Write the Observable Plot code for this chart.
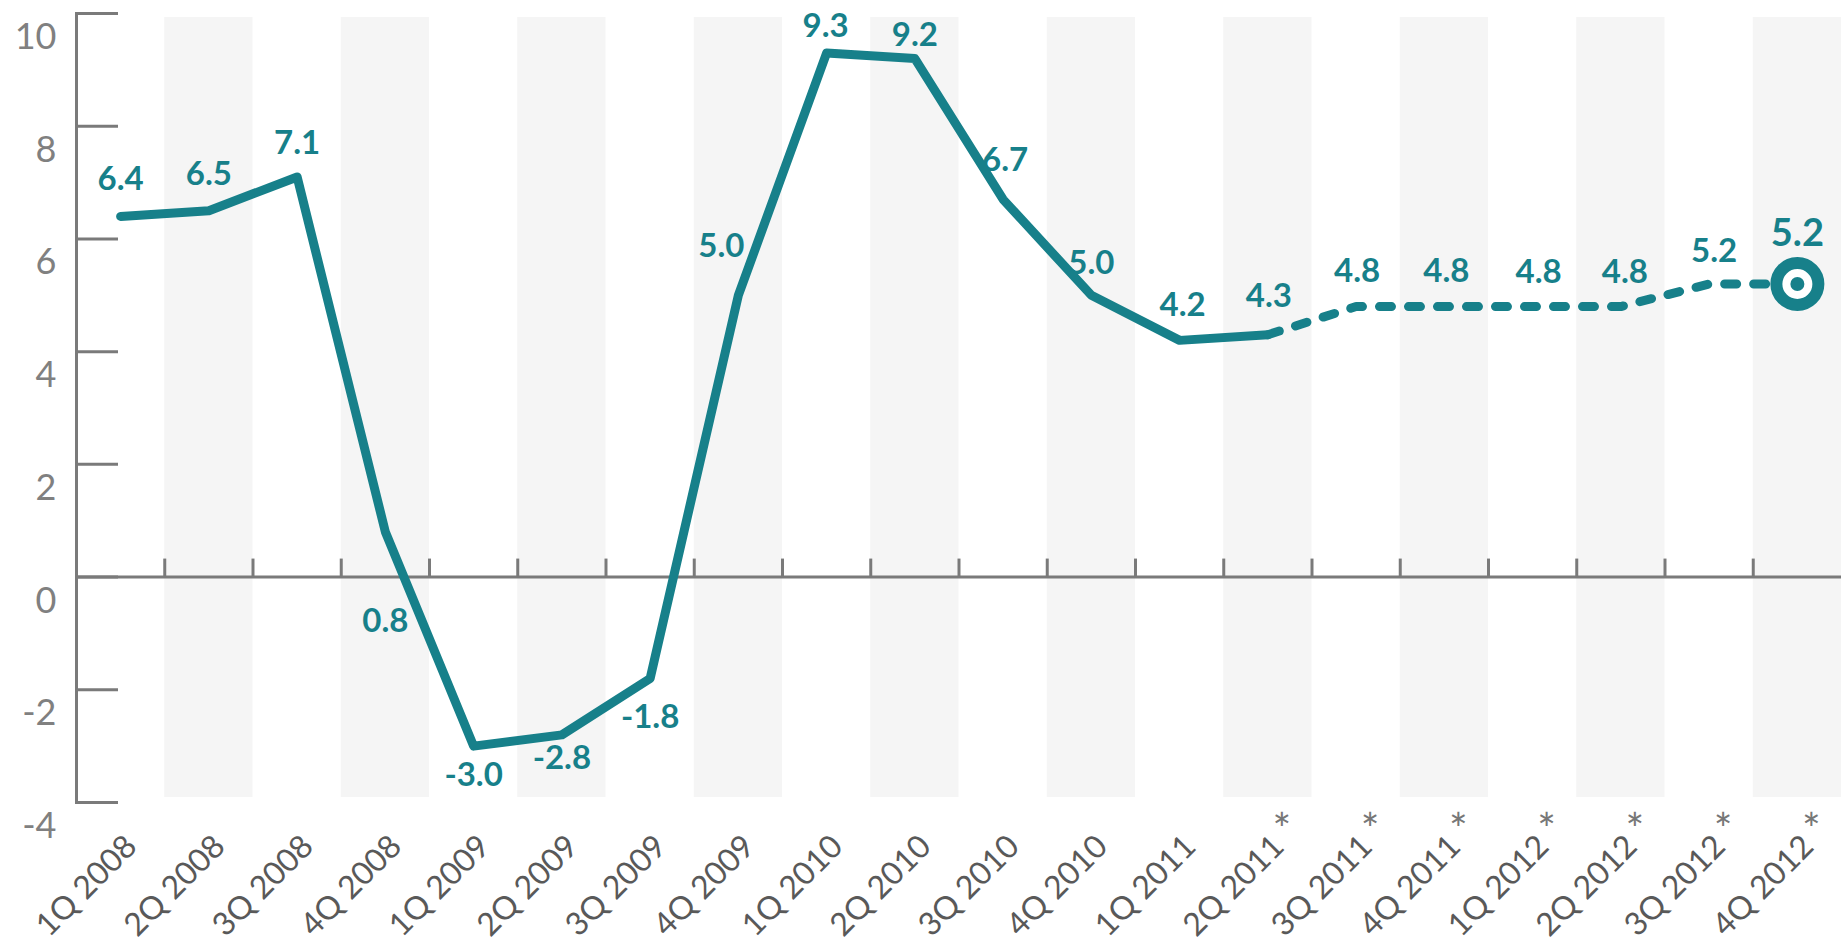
<!DOCTYPE html>
<html>
<head>
<meta charset="utf-8">
<script src="https://cdn.jsdelivr.net/npm/d3@7"></script>
<script src="https://cdn.jsdelivr.net/npm/@observablehq/plot@0.6"></script>
<style>
  html, body { margin: 0; padding: 0; background: #fff; }
  #chart svg { display: block; }
</style>
</head>
<body>
<div id="chart"></div>
<script>
// Quarterly growth, % — actuals through 1Q 2011, forecasts (*) from 2Q 2011
const quarters = [
  "1Q 2008", "2Q 2008", "3Q 2008", "4Q 2008",
  "1Q 2009", "2Q 2009", "3Q 2009", "4Q 2009",
  "1Q 2010", "2Q 2010", "3Q 2010", "4Q 2010",
  "1Q 2011", "2Q 2011", "3Q 2011", "4Q 2011",
  "1Q 2012", "2Q 2012", "3Q 2012", "4Q 2012"
];
const growth = [
  6.4, 6.5, 7.1, 0.8,
  -3.0, -2.8, -1.8, 5.0,
  9.3, 9.2, 6.7, 5.0,
  4.2, 4.3, 4.8, 4.8,
  4.8, 4.8, 5.2, 5.2
];
const yTicks = [-4, -2, 0, 2, 4, 6, 8, 10];
const firstForecast = quarters.indexOf("2Q 2011");

// ---- layout & styles ----
const W = 1841, H = 942;
const M = {top: 13, right: 0, bottom: 140, left: 76};
const teal = "#17808a";
const axisGrey = "#7a7a7a";
const font = "Lato, 'Open Sans', sans-serif";
const pxPerUnit = (H - M.top - M.bottom) / (10 - (-4));

const rows = quarters.map((q, i) => ({q, i, v: growth[i]}));
const solid = rows.slice(0, firstForecast + 1);
const dashed = rows.slice(firstForecast);
const last = rows[rows.length - 1];
const shaded = rows.filter(d => d.i % 2 === 1);
const boundaries = rows.slice(1).map(d => d.i - 0.5);

// value label placement relative to its point, in pixels [dx, dy]
const labelShift = {
  "1Q 2008": [0, -37], "2Q 2008": [0, -36], "3Q 2008": [0, -33], "4Q 2008": [0, 89],
  "1Q 2009": [0, 29],  "2Q 2009": [0, 24],  "3Q 2009": [0, 39],  "4Q 2009": [-17, -49],
  "1Q 2010": [-1, -27], "2Q 2010": [0, -23], "3Q 2010": [2, -39], "4Q 2010": [0, -32],
  "1Q 2011": [3, -35], "2Q 2011": [1, -38], "3Q 2011": [1, -35], "4Q 2011": [2, -35],
  "1Q 2012": [6, -34], "2Q 2012": [4, -34], "3Q 2012": [5, -33], "4Q 2012": [0, -50]
};

const valueLabels = rows.map(d => {
  const [dx, dy] = labelShift[d.q];
  const isLast = d === last;
  return Plot.text([d], {
    x: "i", y: "v", text: r => r.v.toFixed(1),
    dx, dy, fontSize: isLast ? 38 : 33, fontWeight: "bold", fill: teal
  });
});

const chart = Plot.plot({
  width: W,
  height: H,
  marginTop: M.top,
  marginRight: M.right,
  marginBottom: M.bottom,
  marginLeft: M.left,
  style: {fontFamily: font, background: "#fff"},
  x: {type: "linear", domain: [-0.5, quarters.length - 0.5], axis: null},
  y: {domain: [-4, 10], axis: null},
  marks: [
    // alternating column shading
    Plot.rect(shaded, {
      x1: d => d.i - 0.5, x2: d => d.i + 0.5, y1: -4, y2: 10,
      fill: "#f5f5f5", insetTop: 4, insetBottom: 5
    }),
    // y axis line, ticks and labels
    Plot.frame({anchor: "left", stroke: axisGrey, strokeWidth: 3}),
    Plot.tickY(yTicks, {
      y: d => d, stroke: axisGrey, strokeWidth: 3,
      insetRight: W - M.left - M.right - 42
    }),
    Plot.text(yTicks, {
      y: d => d, text: d => String(d), frameAnchor: "left",
      textAnchor: "end", dx: -20, dy: 24,
      fontSize: 36, fill: "#808080"
    }),
    // zero baseline with quarter separators
    Plot.ruleY([0], {stroke: axisGrey, strokeWidth: 3}),
    Plot.ruleX(boundaries, {
      x: d => d, y1: 0, y2: 18 / pxPerUnit,
      stroke: axisGrey, strokeWidth: 3
    }),
    // quarter labels
    Plot.text(rows, {
      x: "i", text: "q", frameAnchor: "bottom",
      rotate: -45, textAnchor: "end", lineAnchor: "bottom",
      dx: 18, dy: 46, fontSize: 32, fill: "#595959"
    }),
    Plot.text(dashed, {
      x: "i", text: () => "*", frameAnchor: "bottom",
      lineAnchor: "bottom", dx: 14, dy: 42,
      fontSize: 44, fill: "#777"
    }),
    // growth line: solid actuals, dashed forecast
    Plot.line(solid, {
      x: "i", y: "v", stroke: teal, strokeWidth: 9,
      strokeLinejoin: "round", strokeLinecap: "round"
    }),
    Plot.line(dashed, {
      x: "i", y: "v", stroke: teal, strokeWidth: 9,
      strokeDasharray: "12,17", strokeLinecap: "round"
    }),
    // end-of-forecast marker
    Plot.dot([last], {x: "i", y: "v", r: 21, stroke: teal, strokeWidth: 12, fill: "#fff"}),
    Plot.dot([last], {x: "i", y: "v", r: 7, fill: teal}),
    // value labels
    ...valueLabels
  ]
});

document.getElementById("chart").append(chart);
</script>
</body>
</html>
